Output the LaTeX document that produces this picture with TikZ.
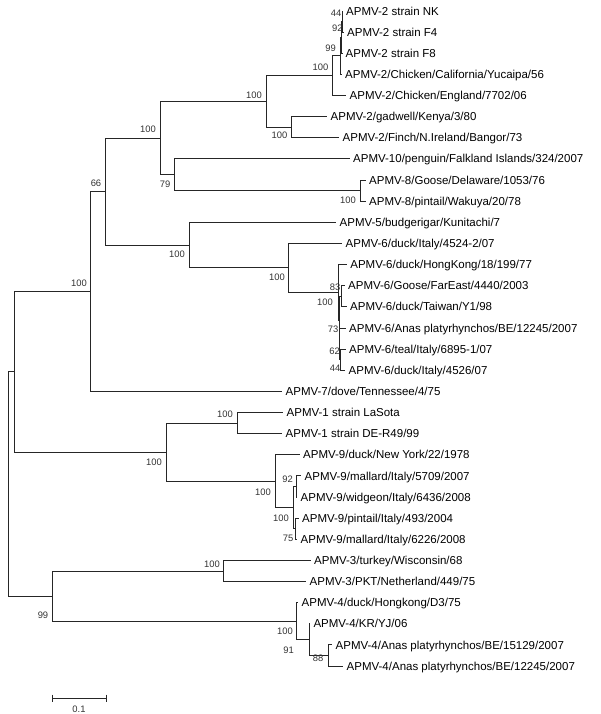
\documentclass[tikz,border=0pt]{standalone}
\usepackage{fontspec}
\setmainfont{Liberation Sans}
\begin{document}
\begin{tikzpicture}[x=1pt, y=-1pt,
      leaf/.style={anchor=west, inner xsep=3.5pt, inner ysep=0pt, text height=8.2pt, text depth=0pt, font=\fontsize{11.5}{13}\selectfont},
      boot/.style={inner sep=0pt, text height=6.7pt, text depth=0pt, text=black!80, font=\fontsize{9.4}{11}\selectfont},
      branch/.style={line width=0.9pt, draw=black!85}
    ]
    \useasboundingbox (0,0) rectangle (600,714);

    \node[leaf] (nk) at (342.5,11) {APMV-2 strain NK};
    \node[leaf] (f4) at (343.5,32.1) {APMV-2 strain F4};
    \node[leaf] (f8) at (342,53.3) {APMV-2 strain F8};
    \node[leaf] (yucaipa) at (341.5,74.4) {APMV-2/Chicken/California/Yucaipa/56};
    \node[leaf] (england) at (346,95.5) {APMV-2/Chicken/England/7702/06};
    \node[leaf] (gadwell) at (327,116.7) {APMV-2/gadwell/Kenya/3/80};
    \node[leaf] (finch) at (339,137.8) {APMV-2/Finch/N.Ireland/Bangor/73};
    \node[leaf] (penguin) at (349.5,158.9) {APMV-10/penguin/Falkland Islands/324/2007};
    \node[leaf] (goose) at (365.5,180) {APMV-8/Goose/Delaware/1053/76};
    \node[leaf] (wakuya) at (365.5,201.2) {APMV-8/pintail/Wakuya/20/78};
    \node[leaf] (budgie) at (336,222.3) {APMV-5/budgerigar/Kunitachi/7};
    \node[leaf] (italyA) at (342,243.4) {APMV-6/duck/Italy/4524-2/07};
    \node[leaf] (hongkong) at (346.7,264.6) {APMV-6/duck/HongKong/18/199/77};
    \node[leaf] (fareast) at (344.5,285.7) {APMV-6/Goose/FarEast/4440/2003};
    \node[leaf] (taiwan) at (346.5,306.8) {APMV-6/duck/Taiwan/Y1/98};
    \node[leaf] (anasA) at (345.5,328) {APMV-6/Anas platyrhynchos/BE/12245/2007};
    \node[leaf] (teal) at (345.5,349.1) {APMV-6/teal/Italy/6895-1/07};
    \node[leaf] (italyB) at (345,370.2) {APMV-6/duck/Italy/4526/07};
    \node[leaf] (dove) at (282,391.3) {APMV-7/dove/Tennessee/4/75};
    \node[leaf] (lasota) at (283,412.5) {APMV-1 strain LaSota};
    \node[leaf] (derR) at (282,433.6) {APMV-1 strain DE-R49/99};
    \node[leaf] (newyork) at (299.5,454.7) {APMV-9/duck/New York/22/1978};
    \node[leaf] (mallardA) at (301,475.9) {APMV-9/mallard/Italy/5709/2007};
    \node[leaf] (widgeon) at (297,497) {APMV-9/widgeon/Italy/6436/2008};
    \node[leaf] (pintail) at (298.5,518.1) {APMV-9/pintail/Italy/493/2004};
    \node[leaf] (mallardB) at (297,539.3) {APMV-9/mallard/Italy/6226/2008};
    \node[leaf] (turkey) at (310.5,560.4) {APMV-3/turkey/Wisconsin/68};
    \node[leaf] (pkt) at (306,581.5) {APMV-3/PKT/Netherland/449/75};
    \node[leaf] (duckhk) at (298,602.6) {APMV-4/duck/Hongkong/D3/75};
    \node[leaf] (kryj) at (309.8,623.8) {APMV-4/KR/YJ/06};
    \node[leaf] (anasB) at (332,644.9) {APMV-4/Anas platyrhynchos/BE/15129/2007};
    \node[leaf] (anasC) at (343,666) {APMV-4/Anas platyrhynchos/BE/12245/2007};

    \coordinate (root) at (8,483.9);
    \coordinate (nA) at (14.7,371.8);
    \coordinate (nB) at (90.7,291.5);
    \coordinate (nC) at (105.3,191.6);
    \coordinate (nD) at (160,138.1);
    \coordinate (nF) at (266.7,101.5);
    \coordinate (nH) at (332.7,75.7);
    \coordinate (nJ) at (340.8,55.9);
    \coordinate (nK) at (341.5,37.4);
    \coordinate (nL) at (342,21.6);
    \coordinate (nI) at (291,127.2);
    \coordinate (nG) at (174.7,174.8);
    \coordinate (nM) at (360,190.6);
    \coordinate (nE) at (189.3,245.1);
    \coordinate (nN) at (288.3,267.9);
    \coordinate (nO) at (338.3,292.3);
    \coordinate (nP) at (339,320);
    \coordinate (nQ) at (341,296.3);
    \coordinate (nR) at (339.5,343.8);
    \coordinate (nS) at (340.5,359.7);
    \coordinate (n19) at (166,452.1);
    \coordinate (nT) at (237,423);
    \coordinate (nU) at (275,481.2);
    \coordinate (nV) at (293.7,507.6);
    \coordinate (nW) at (296,486.4);
    \coordinate (nX) at (295.5,528.7);
    \coordinate (n34) at (52.3,596);
    \coordinate (nY) at (223.3,571);
    \coordinate (nZ) at (296.7,621.1);
    \coordinate (nAA) at (309,639.6);
    \coordinate (nAB) at (328,655.5);

    \draw[branch] (root) |- (nA);
    \draw[branch] (root) |- (n34);
    \draw[branch] (nA) |- (nB);
    \draw[branch] (nA) |- (n19);
    \draw[branch] (nB) |- (nC);
    \draw[branch] (nB) |- (dove.west);
    \draw[branch] (nC) |- (nD);
    \draw[branch] (nC) |- (nE);
    \draw[branch] (nD) |- (nF);
    \draw[branch] (nD) |- (nG);
    \draw[branch] (nF) |- (nH);
    \draw[branch] (nF) |- (nI);
    \draw[branch] (nH) |- (nJ);
    \draw[branch] (nH) |- (england.west);
    \draw[branch] (nJ) |- (nK);
    \draw[branch] (nJ) |- (yucaipa.west);
    \draw[branch] (nK) |- (nL);
    \draw[branch] (nK) |- (f8.west);
    \draw[branch] (nL) |- (nk.west);
    \draw[branch] (nL) |- (f4.west);
    \draw[branch] (nI) |- (gadwell.west);
    \draw[branch] (nI) |- (finch.west);
    \draw[branch] (nG) |- (penguin.west);
    \draw[branch] (nG) |- (nM);
    \draw[branch] (nM) |- (goose.west);
    \draw[branch] (nM) |- (wakuya.west);
    \draw[branch] (nE) |- (budgie.west);
    \draw[branch] (nE) |- (nN);
    \draw[branch] (nN) |- (italyA.west);
    \draw[branch] (nN) |- (nO);
    \draw[branch] (nO) |- (hongkong.west);
    \draw[branch] (nO) |- (nP);
    \draw[branch] (nP) |- (nQ);
    \draw[branch] (nP) |- (nR);
    \draw[branch] (nQ) |- (fareast.west);
    \draw[branch] (nQ) |- (taiwan.west);
    \draw[branch] (nR) |- (anasA.west);
    \draw[branch] (nR) |- (nS);
    \draw[branch] (nS) |- (teal.west);
    \draw[branch] (nS) |- (italyB.west);
    \draw[branch] (n19) |- (nT);
    \draw[branch] (n19) |- (nU);
    \draw[branch] (nT) |- (lasota.west);
    \draw[branch] (nT) |- (derR.west);
    \draw[branch] (nU) |- (newyork.west);
    \draw[branch] (nU) |- (nV);
    \draw[branch] (nV) |- (nW);
    \draw[branch] (nV) |- (nX);
    \draw[branch] (nW) |- (mallardA.west);
    \draw[branch] (nW) |- (widgeon.west);
    \draw[branch] (nX) |- (pintail.west);
    \draw[branch] (nX) |- (mallardB.west);
    \draw[branch] (n34) |- (nY);
    \draw[branch] (n34) |- (nZ);
    \draw[branch] (nY) |- (turkey.west);
    \draw[branch] (nY) |- (pkt.west);
    \draw[branch] (nZ) |- (duckhk.west);
    \draw[branch] (nZ) |- (nAA);
    \draw[branch] (nAA) |- (kryj.west);
    \draw[branch] (nAA) |- (nAB);
    \draw[branch] (nAB) |- (anasB.west);
    \draw[branch] (nAB) |- (anasC.west);

    \node[boot] (bL) at (336,13) {44};
    \node[boot] (bK) at (337.3,28.5) {92};
    \node[boot] (bJ) at (330.5,47.7) {99};
    \node[boot] (bH) at (320.5,66.7) {100};
    \node[boot] (bF) at (254,95) {100};
    \node[boot] (bI) at (279.5,135) {100};
    \node[boot] (bD) at (148,129) {100};
    \node[boot] (bG) at (165,184) {79};
    \node[boot] (bM) at (348,200.5) {100};
    \node[boot] (bC) at (96,183) {66};
    \node[boot] (bB) at (79,283) {100};
    \node[boot] (bE) at (177,254) {100};
    \node[boot] (bN) at (277,277) {100};
    \node[boot] (bO) at (325,302) {100};
    \node[boot] (bQ) at (335,287) {83};
    \node[boot] (bP) at (333,329) {73};
    \node[boot] (bR) at (334.5,351) {62};
    \node[boot] (bS) at (335,368.5) {44};
    \node[boot] (bT) at (225,414) {100};
    \node[boot] (b19) at (154,462) {100};
    \node[boot] (bU) at (263,492) {100};
    \node[boot] (bW) at (287.5,479) {92};
    \node[boot] (bV) at (281,518) {100};
    \node[boot] (bX) at (288,538) {75};
    \node[boot] (bY) at (212,564) {100};
    \node[boot] (b34) at (43,615) {99};
    \node[boot] (bZ) at (285,631) {100};
    \node[boot] (bAA) at (288.5,650) {91};
    \node[boot] (bAB) at (318,658) {88};

    \coordinate (barL) at (52.3,698);
    \coordinate (barR) at (106,698);
    \draw[branch] (barL) -- (barR);
    \draw[branch] ([yshift=3.5pt]barL) -- ([yshift=-3.5pt]barL);
    \draw[branch] ([yshift=3.5pt]barR) -- ([yshift=-3.5pt]barR);
    \node[boot] (barlabel) at (79,709) {0.1};

\end{tikzpicture}
\end{document}
